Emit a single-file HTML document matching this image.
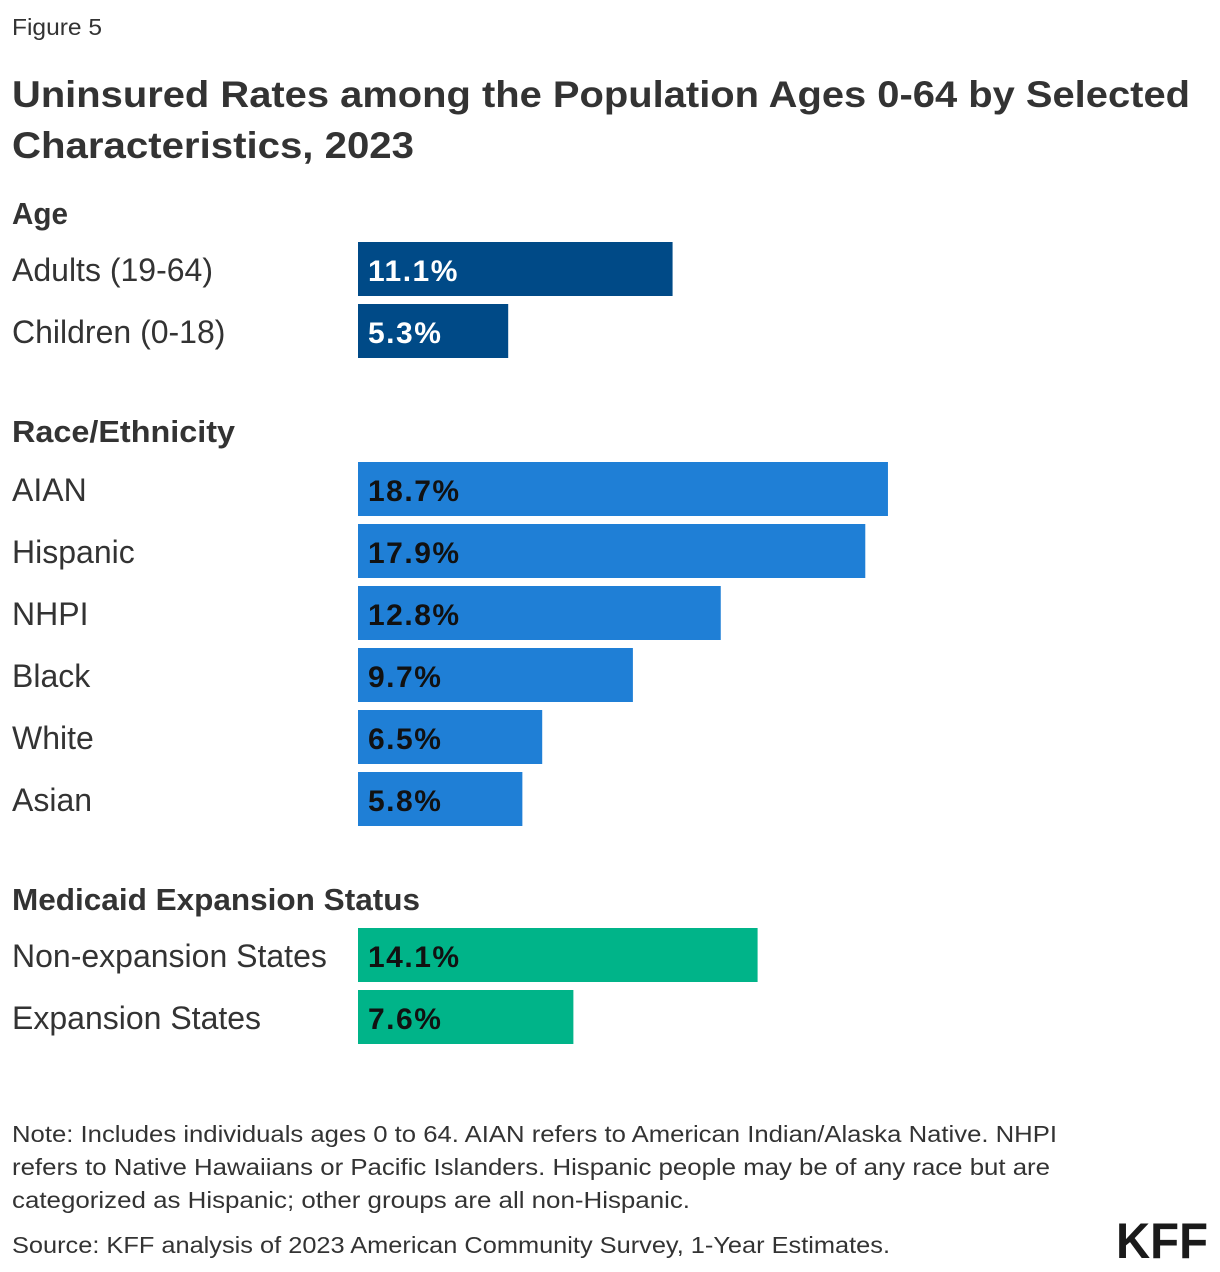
<!DOCTYPE html>
<html><head><meta charset="utf-8"><style>
body{margin:0;background:#fff;}
svg{display:block;font-family:"Liberation Sans",sans-serif;}
</style></head><body>
<svg id="chart" width="1220" height="1272" viewBox="0 0 1220 1272">
<text x="12" y="35" font-size="23" fill="#333" textLength="90" lengthAdjust="spacingAndGlyphs">Figure 5</text>
<text x="12" y="107" font-size="37" font-weight="bold" fill="#333" textLength="1178" lengthAdjust="spacingAndGlyphs">Uninsured Rates among the Population Ages 0-64 by Selected</text>
<text x="12" y="158" font-size="37" font-weight="bold" fill="#333" textLength="402" lengthAdjust="spacingAndGlyphs">Characteristics, 2023</text>
<g id="bars"></g>
<text x="12" y="1142" font-size="23" fill="#333" textLength="1045" lengthAdjust="spacingAndGlyphs">Note: Includes individuals ages 0 to 64. AIAN refers to American Indian/Alaska Native. NHPI</text>
<text x="12" y="1175" font-size="23" fill="#333" textLength="1038" lengthAdjust="spacingAndGlyphs">refers to Native Hawaiians or Pacific Islanders. Hispanic people may be of any race but are</text>
<text x="12" y="1208" font-size="23" fill="#333" textLength="678" lengthAdjust="spacingAndGlyphs">categorized as Hispanic; other groups are all non-Hispanic.</text>
<text x="12" y="1253" font-size="23" fill="#333" textLength="878" lengthAdjust="spacingAndGlyphs">Source: KFF analysis of 2023 American Community Survey, 1-Year Estimates.</text>
<text x="1116" y="1258" font-size="50" font-weight="bold" fill="#1a1a1a" textLength="92" lengthAdjust="spacingAndGlyphs">KFF</text>
</svg>
<script>
const groups = ["Age","Race/Ethnicity","Medicaid Expansion Status"];
const groupY = [224, 442, 910];
const groupW = [56, 223, 408];
const categories = ["Adults (19-64)","Children (0-18)","AIAN","Hispanic","NHPI","Black","White","Asian","Non-expansion States","Expansion States"];
const values = [11.1,5.3,18.7,17.9,12.8,9.7,6.5,5.8,14.1,7.6];
const groupOf = [0,0,1,1,1,1,1,1,2,2];
const barTop = [242,304,462,524,586,648,710,772,928,990];
const colors = ["#004a87","#1f7fd6","#00b489"];
const textColors = ["#fff","#111","#111"];
const ns="http://www.w3.org/2000/svg";
const g=document.getElementById('bars');
const x0=358, pxPer=28.34;
function xScale(v){return v*pxPer;}
function mk(tag,attrs,txt){const e=document.createElementNS(ns,tag);for(const k in attrs)e.setAttribute(k,attrs[k]);if(txt!==undefined)e.textContent=txt;g.appendChild(e);return e;}
groups.forEach((gname,i)=>{
  const t=mk('text',{x:12,y:groupY[i],'font-size':31,'font-weight':'bold',fill:'#333',textLength:groupW[i],lengthAdjust:'spacingAndGlyphs'},gname);
  
  
});
categories.forEach((c,i)=>{
  const y=barTop[i], gi=groupOf[i];
  const lab=mk('text',{x:12,y:y+39,'font-size':32,fill:'#333'},c);
  
  
  const r=mk('rect',{x:x0,y:y,width:xScale(values[i]),height:54,fill:colors[gi]});
  
  
  const v=mk('text',{x:368,y:y+39,'font-size':30,'font-weight':'bold','letter-spacing':1.5,fill:textColors[gi]},values[i].toFixed(1)+'%');
  
  
});
</script>
</body></html>
